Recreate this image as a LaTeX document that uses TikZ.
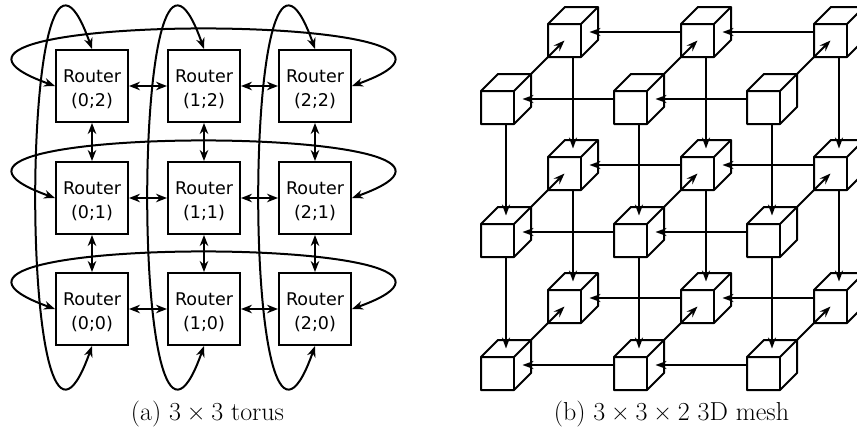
\documentclass[tikz,border=0pt]{standalone}
\usepackage{fontspec}
\newfontfamily\routerfont{DejaVu Sans}
\usetikzlibrary{arrows.meta,calc}
\begin{document}
\begin{tikzpicture}[x=1pt,y=-1pt,
  router/.style={draw, line width=2pt, minimum size=72pt, inner sep=0pt, fill=white},
  rtext/.style={font=\routerfont\fontsize{17.5}{24}\selectfont, align=center, inner sep=0pt},
  link/.style={line width=2pt, {Stealth[length=11pt,width=8.5pt]}-{Stealth[length=11pt,width=8.5pt]}},
  mlink/.style={line width=2pt, -{Stealth[length=11pt,width=8pt]}},
  cubeface/.style={draw, line width=2pt, fill=white, line join=round},
  cubeline/.style={line width=2pt, line join=round},
  caption/.style={font=\fontsize{26}{30}\selectfont, anchor=base, inner sep=0pt}]
\useasboundingbox (0,0) rectangle (857,432);

% ---------- (a) torus ----------
\foreach \i/\x in {0/92,1/204,2/315}{
  \foreach \j/\y in {0/309,1/198,2/86}{
    \node[router] (r\i\j) at (\x,\y) {};
    \node[rtext] (t\i\j) at (\x,\y+3) {Router\\(\i;\j)};
  }
}
\foreach \j in {0,1,2}{
  \draw[link] (r0\j.east) -- (r1\j.west);
  \draw[link] (r1\j.east) -- (r2\j.west);
}
\foreach \i in {0,1,2}{
  \draw[link] (r\i2.south) -- (r\i1.north);
  \draw[link] (r\i1.south) -- (r\i0.north);
}
\foreach \i in {0,1,2}
  \draw[link] (r\i2.north) .. controls +(-75,-212) and +(-75,212) .. (r\i0.south);
\foreach \j in {0,1,2}
  \draw[link] (r0\j.west) .. controls +(-212,-76) and +(212,-76) .. (r2\j.east);

\node[caption] (capa) at (207.5,420) {(a) 3\hspace{.222em}×\hspace{.222em}3 torus};

% ---------- (b) 3D mesh ----------
\foreach \i in {0,1,2}{
  \foreach \j in {0,1,2}{
    \foreach \k in {0,1}{
      \pgfmathsetmacro\X{481+133*\i+67*\k}
      \pgfmathsetmacro\Y{91+133*\j-67*\k}
      \coordinate (p\i\j\k) at (\X,\Y);
      \draw[cubeface] (p\i\j\k) -- ++(17,-17) -- ++(33,0) -- ++(0,33)
        -- ++(-17,17) -- ++(-33,0) -- cycle;
      \draw[cubeline] (p\i\j\k) -- ++(33,0) -- ++(17,-17);
      \draw[cubeline] ($(p\i\j\k)+(33,0)$) -- ++(0,33);
      \coordinate (L\i\j\k) at ($(p\i\j\k)+(0,8)$);
      \coordinate (R\i\j\k) at ($(p\i\j\k)+(41.5,8)$);
      \coordinate (B\i\j\k) at ($(p\i\j\k)+(25,33)$);
      \coordinate (T\i\j\k) at ($(p\i\j\k)+(25,-8.5)$);
      \coordinate (K\i\j\k) at ($(p\i\j\k)+(50,-17)$);
      \coordinate (F\i\j\k) at ($(p\i\j\k)+(16.5,16.5)$);
    }
  }
}
\foreach \j in {0,1,2}{
  \foreach \k in {0,1}{
    \draw[mlink] (L1\j\k) -- (R0\j\k);
    \draw[mlink] (L2\j\k) -- (R1\j\k);
  }
}
\foreach \i in {0,1,2}{
  \foreach \k in {0,1}{
    \draw[mlink] (B\i0\k) -- (T\i1\k);
    \draw[mlink] (B\i1\k) -- (T\i2\k);
  }
}
\foreach \i in {0,1,2}{
  \foreach \j in {0,1,2}{
    \draw[mlink] (K\i\j0) -- (F\i\j1);
  }
}

\node[caption] (capb) at (671.5,420) {(b) 3\hspace{.222em}×\hspace{.222em}3\hspace{.222em}×\hspace{.222em}2 3D mesh};
\end{tikzpicture}
\end{document}
